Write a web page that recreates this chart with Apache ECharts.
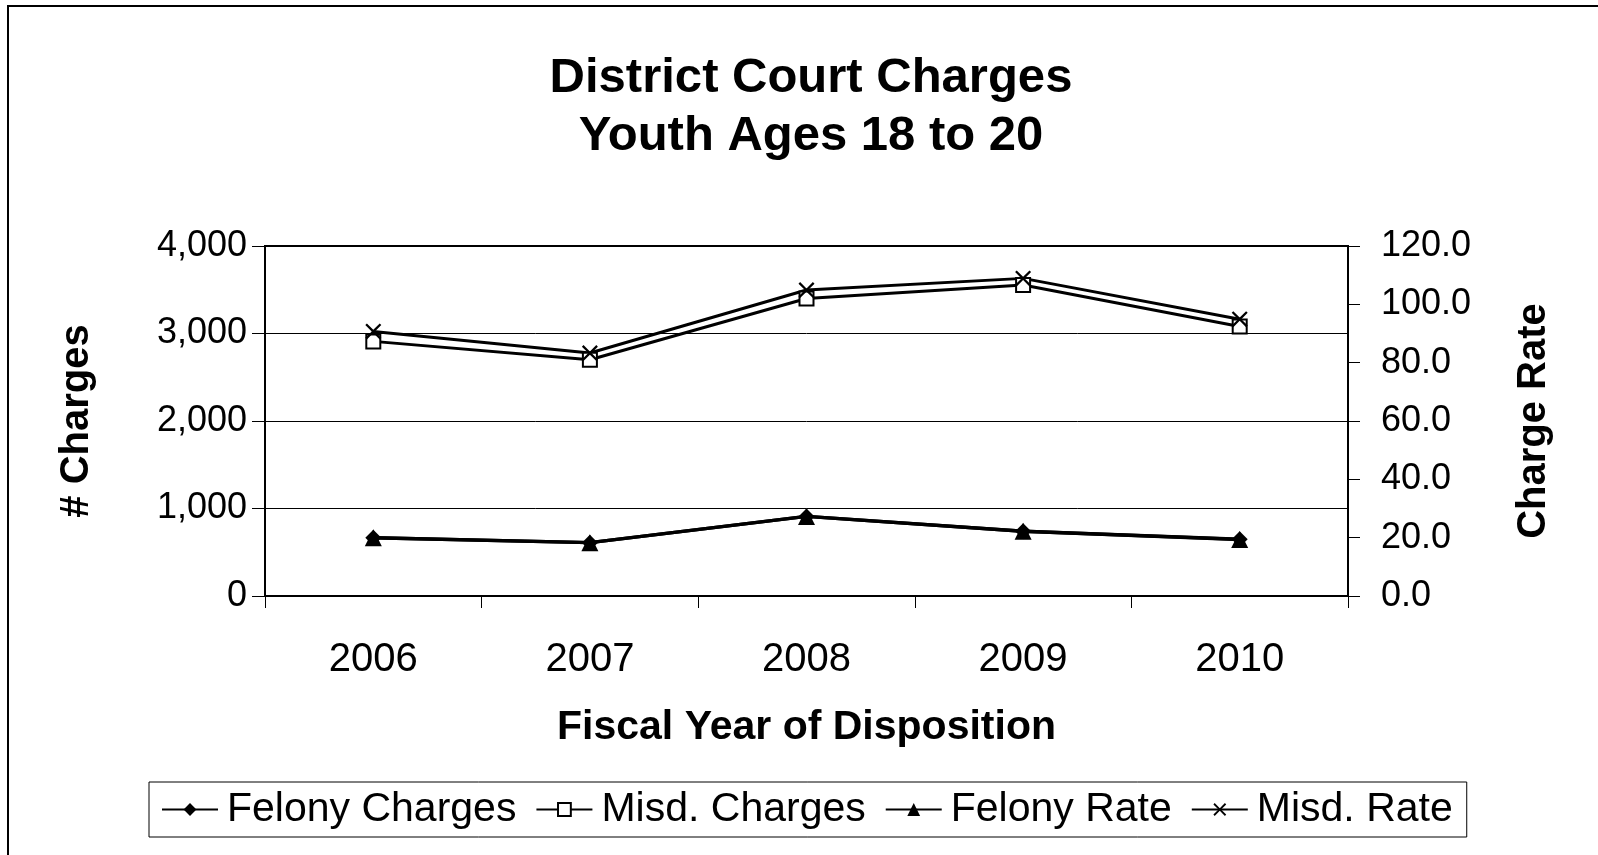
<!DOCTYPE html>
<html>
<head>
<meta charset="utf-8">
<script src="https://cdn.jsdelivr.net/npm/echarts@6/dist/echarts.min.js"></script>
<style>
    html, body { margin: 0; padding: 0; background: #fff; }
    #chart { width: 1598px; height: 855px; }
</style>
</head>
<body>
<div id="chart"></div>
<script>
    /* ---------- data ---------- */
    var years = ['2006', '2007', '2008', '2009', '2010'];
    var felonyCharges = [665, 610, 910, 740, 648];
    var misdCharges = [2910, 2700, 3400, 3555, 3080];
    var felonyRate = [20.0, 18.3, 27.3, 22.2, 19.4];
    var misdRate = [90.7, 83.3, 104.9, 108.9, 94.9];

    var font = '"Liberation Sans", Arial, sans-serif';
    var xMark = 'path://M0,1L1,0L5,4L9,0L10,1L6,5L10,9L9,10L5,6L1,10L0,9L4,5Z';

    var chart = echarts.init(document.getElementById('chart'));

    var option = {
        backgroundColor: '#fff',
        animation: false,
        textStyle: { fontFamily: font, color: '#000' },
        title: {
            text: 'District Court Charges\nYouth Ages 18 to 20',
            left: 806,
            top: 44,
            textAlign: 'center',
            textStyle: { fontFamily: font, fontSize: 49, fontWeight: 'bold', color: '#000', lineHeight: 58 }
        },
        graphic: [{
            type: 'rect',
            shape: { x: 8, y: 6, width: 1600, height: 860 },
            style: { fill: 'none', stroke: '#000', lineWidth: 2 },
            silent: true
        }],
        grid: {
            left: 265,
            top: 246,
            width: 1083,
            height: 350,
            show: true,
            borderColor: '#000',
            borderWidth: 2,
            containLabel: false
        },
        legend: {
            left: 149,
            top: 782,
            padding: [7, 14, 7, 12],
            itemGap: 19,
            itemWidth: 56,
            itemHeight: 16,
            borderColor: '#000',
            borderWidth: 1,
            textStyle: { fontFamily: font, fontSize: 41, color: '#000', padding: [0, 0, 0, 4] },
            data: ['Felony Charges', 'Misd. Charges', 'Felony Rate', 'Misd. Rate']
        },
        xAxis: {
            type: 'category',
            data: years,
            boundaryGap: true,
            name: 'Fiscal Year of Disposition',
            nameLocation: 'middle',
            nameGap: 111,
            nameTextStyle: { fontFamily: font, fontSize: 41, fontWeight: 'bold', color: '#000' },
            axisLine: { lineStyle: { color: '#000', width: 2 } },
            axisTick: { show: true, length: 12, lineStyle: { color: '#000', width: 1 } },
            axisLabel: { fontFamily: font, fontSize: 40, color: '#000', margin: 44 },
            splitLine: { show: false }
        },
        yAxis: [{
            type: 'value',
            min: 0,
            max: 4000,
            interval: 1000,
            name: '# Charges',
            nameLocation: 'middle',
            nameRotate: 90,
            nameGap: 168,
            nameTextStyle: { fontFamily: font, fontSize: 40, fontWeight: 'bold', color: '#000' },
            axisLine: { show: true, lineStyle: { color: '#000', width: 2 } },
            axisTick: { show: true, length: 13, lineStyle: { color: '#000', width: 1 } },
            axisLabel: {
                fontFamily: font, fontSize: 36, color: '#000', margin: 18,
                formatter: function (v) { return v.toLocaleString('en-US'); }
            },
            splitLine: { show: true, lineStyle: { color: '#000', width: 1 } }
        }, {
            type: 'value',
            min: 0,
            max: 120,
            interval: 20,
            name: 'Charge Rate',
            nameLocation: 'middle',
            nameRotate: 90,
            nameGap: 166,
            nameTextStyle: { fontFamily: font, fontSize: 40, fontWeight: 'bold', color: '#000' },
            axisLine: { show: true, lineStyle: { color: '#000', width: 2 } },
            axisTick: { show: true, length: 12, lineStyle: { color: '#000', width: 1 } },
            axisLabel: {
                fontFamily: font, fontSize: 36, color: '#000', margin: 33,
                formatter: function (v) { return v.toFixed(1); }
            },
            splitLine: { show: false }
        }],
        series: [{
            name: 'Felony Charges',
            type: 'line',
            yAxisIndex: 0,
            data: felonyCharges,
            symbol: 'diamond',
            symbolSize: 16,
            itemStyle: { color: '#000' },
            lineStyle: { color: '#000', width: 3.5 }
        }, {
            name: 'Misd. Charges',
            type: 'line',
            yAxisIndex: 0,
            data: misdCharges,
            symbol: 'rect',
            symbolSize: 14,
            itemStyle: { color: '#fff', borderColor: '#000', borderWidth: 2 },
            lineStyle: { color: '#000', width: 3 }
        }, {
            name: 'Felony Rate',
            type: 'line',
            yAxisIndex: 1,
            data: felonyRate,
            symbol: 'triangle',
            symbolSize: 17,
            itemStyle: { color: '#000' },
            lineStyle: { color: '#000', width: 3.5 }
        }, {
            name: 'Misd. Rate',
            type: 'line',
            yAxisIndex: 1,
            data: misdRate,
            symbol: xMark,
            symbolSize: 16,
            itemStyle: { color: '#000' },
            lineStyle: { color: '#000', width: 3 }
        }]
    };

    chart.setOption(option);
</script>
</body>
</html>
